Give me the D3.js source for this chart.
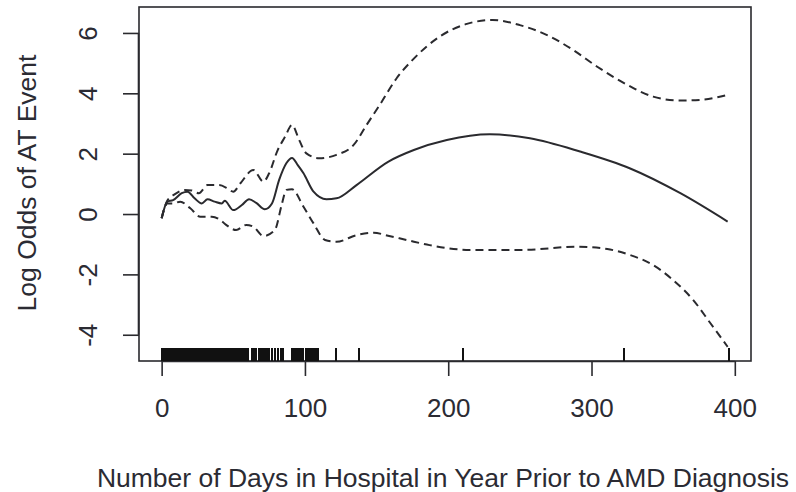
<!DOCTYPE html>
<html>
<head>
<meta charset="utf-8">
<script src="https://cdn.jsdelivr.net/npm/d3@7"></script>
<style>
  html, body { margin: 0; padding: 0; background: #fff; }
  svg { display: block; }
  text { font-family: "Liberation Sans", Arial, sans-serif; fill: #2b2b33; }
</style>
</head>
<body>
<svg id="chart" width="796" height="492"></svg>
<script>
// ---- data ----
const fitDays = [0, 4, 8, 14, 18, 23, 28, 32, 37, 42, 44, 50, 56, 61, 66, 72, 77, 82, 87, 91, 95, 99, 106, 115, 122, 136, 158, 176, 199, 229, 257, 292, 327, 362, 395];
const fitVals = [-0.14, 0.41, 0.46, 0.69, 0.74, 0.52, 0.35, 0.49, 0.41, 0.35, 0.44, 0.13, 0.30, 0.49, 0.37, 0.16, 0.35, 1.13, 1.68, 1.86, 1.62, 1.35, 0.74, 0.49, 0.52, 0.96, 1.73, 2.12, 2.45, 2.64, 2.51, 2.07, 1.51, 0.69, -0.25];

const upDays = [0, 4, 9, 16, 21, 26, 32, 40, 46, 50, 55, 64, 71, 75, 81, 86, 91, 96, 101, 110, 122, 134, 143, 152, 164, 176, 194, 213, 231, 250, 269, 287, 304, 325, 343, 362, 376, 395];
const upVals = [-0.14, 0.45, 0.65, 0.80, 0.78, 0.69, 0.96, 0.96, 0.85, 0.74, 1.02, 1.46, 1.07, 1.35, 2.12, 2.55, 2.95, 2.45, 2.01, 1.85, 1.96, 2.29, 2.95, 3.60, 4.50, 5.15, 5.88, 6.30, 6.43, 6.26, 5.93, 5.44, 4.88, 4.28, 3.89, 3.76, 3.78, 3.95];

const loDays = [0, 4, 8, 13, 20, 27, 35, 41, 45, 52, 59, 64, 71, 79, 84, 87, 91, 99, 106, 114, 122, 136, 148, 158, 171, 187, 215, 252, 290, 311, 327, 343, 357, 371, 383, 395];
const loVals = [-0.14, 0.35, 0.35, 0.41, 0.19, -0.09, -0.09, -0.20, -0.36, -0.53, -0.36, -0.42, -0.73, -0.53, 0.35, 0.80, 0.82, 0.24, -0.31, -0.86, -0.92, -0.70, -0.62, -0.72, -0.86, -1.03, -1.19, -1.19, -1.08, -1.16, -1.36, -1.69, -2.19, -2.85, -3.62, -4.40];

// observed days (rug)
const rugDays = d3.range(0, 61).concat([63, 64, 65, 66, 68, 69, 70, 71, 72, 73, 74, 75, 77, 79, 81, 83, 85, 91, 92, 93, 94, 95, 96, 97.5, 99, 101, 102, 103, 104, 105, 106, 107, 108, 109, 122, 137.5, 210, 323, 396]);

const xTicks = [0, 100, 200, 300, 400];
const yTicks = [-4, -2, 0, 2, 4, 6];
const xTitle = "Number of Days in Hospital in Year Prior to AMD Diagnosis";
const yTitle = "Log Odds of AT Event";

// ---- layout ----
const L = 139, R = 751, T = 7, B = 361;
const svg = d3.select("#chart");
const x = d3.scaleLinear().domain([-15.8, 411.3]).range([L, R]);
const y = d3.scaleLinear().domain([-4.87, 6.86]).range([B, T]);
const ink = "#2a2a2e";

// box
svg.append("rect").attr("x", L).attr("y", T).attr("width", R - L).attr("height", B - T)
  .attr("fill", "none").attr("stroke", ink).attr("stroke-width", 1.6);

// x axis
const xAxis = d3.axisBottom(x).tickValues(xTicks).tickSize(15).tickPadding(32).tickFormat(d3.format("d"));
const gx = svg.append("g").attr("transform", `translate(0,${B})`).call(xAxis);
gx.select(".domain").attr("d", `M${x(0)},0.5H${x(400)}`).attr("stroke", ink).attr("stroke-width", 1.6);
gx.selectAll(".tick line").attr("stroke", ink).attr("stroke-width", 1.6);
gx.selectAll(".tick text").attr("font-size", 26).attr("font-family", "Liberation Sans, Arial, sans-serif").attr("fill", "#2b2b33")
  .attr("dy", null).attr("dominant-baseline", "central");

// y axis
const yAxis = d3.axisLeft(y).tickValues(yTicks).tickSize(16).tickPadding(0).tickFormat(d3.format("d"));
const gy = svg.append("g").attr("transform", `translate(${L},0)`).call(yAxis);
gy.select(".domain").attr("d", `M-0.5,${y(-4)}V${y(6)}`).attr("stroke", ink).attr("stroke-width", 1.6);
gy.selectAll(".tick line").attr("stroke", ink).attr("stroke-width", 1.6);
gy.selectAll(".tick text")
  .attr("font-size", 26).attr("font-family", "Liberation Sans, Arial, sans-serif").attr("fill", "#2b2b33")
  .attr("text-anchor", "middle").attr("dy", null).attr("x", null)
  .attr("transform", "translate(-51,0) rotate(-90)")
  .attr("dominant-baseline", "central");
svg.selectAll(".tick text").text(d => d < 0 ? "-" + Math.abs(d) : String(d));

// lines
const mk = (days, vals) => days.map((d, i) => [d, vals[i]]);
const line = d3.line().x(d => x(d[0])).y(d => y(d[1])).curve(d3.curveMonotoneX);

svg.append("path").datum(mk(upDays, upVals)).attr("d", line)
  .attr("fill", "none").attr("stroke", ink).attr("stroke-width", 2).attr("stroke-dasharray", "8,5");
svg.append("path").datum(mk(loDays, loVals)).attr("d", line)
  .attr("fill", "none").attr("stroke", ink).attr("stroke-width", 2).attr("stroke-dasharray", "8,5");
svg.append("path").datum(mk(fitDays, fitVals)).attr("d", line)
  .attr("fill", "none").attr("stroke", ink).attr("stroke-width", 2);

// rug
svg.append("g").attr("shape-rendering", "crispEdges").selectAll("line").data(rugDays).join("line")
  .attr("x1", d => x(d)).attr("x2", d => x(d))
  .attr("y1", B).attr("y2", B - 13)
  .attr("stroke", "#111").attr("stroke-width", 2);

// titles
svg.append("text").attr("x", (L + R) / 2 - 2).attr("y", 487)
  .attr("text-anchor", "middle").attr("font-size", 26.5).text(xTitle);
svg.append("text").attr("transform", `translate(36,${(T + B) / 2 - 1}) rotate(-90)`)
  .attr("text-anchor", "middle").attr("font-size", 26.5).text(yTitle);
</script>
</body>
</html>
